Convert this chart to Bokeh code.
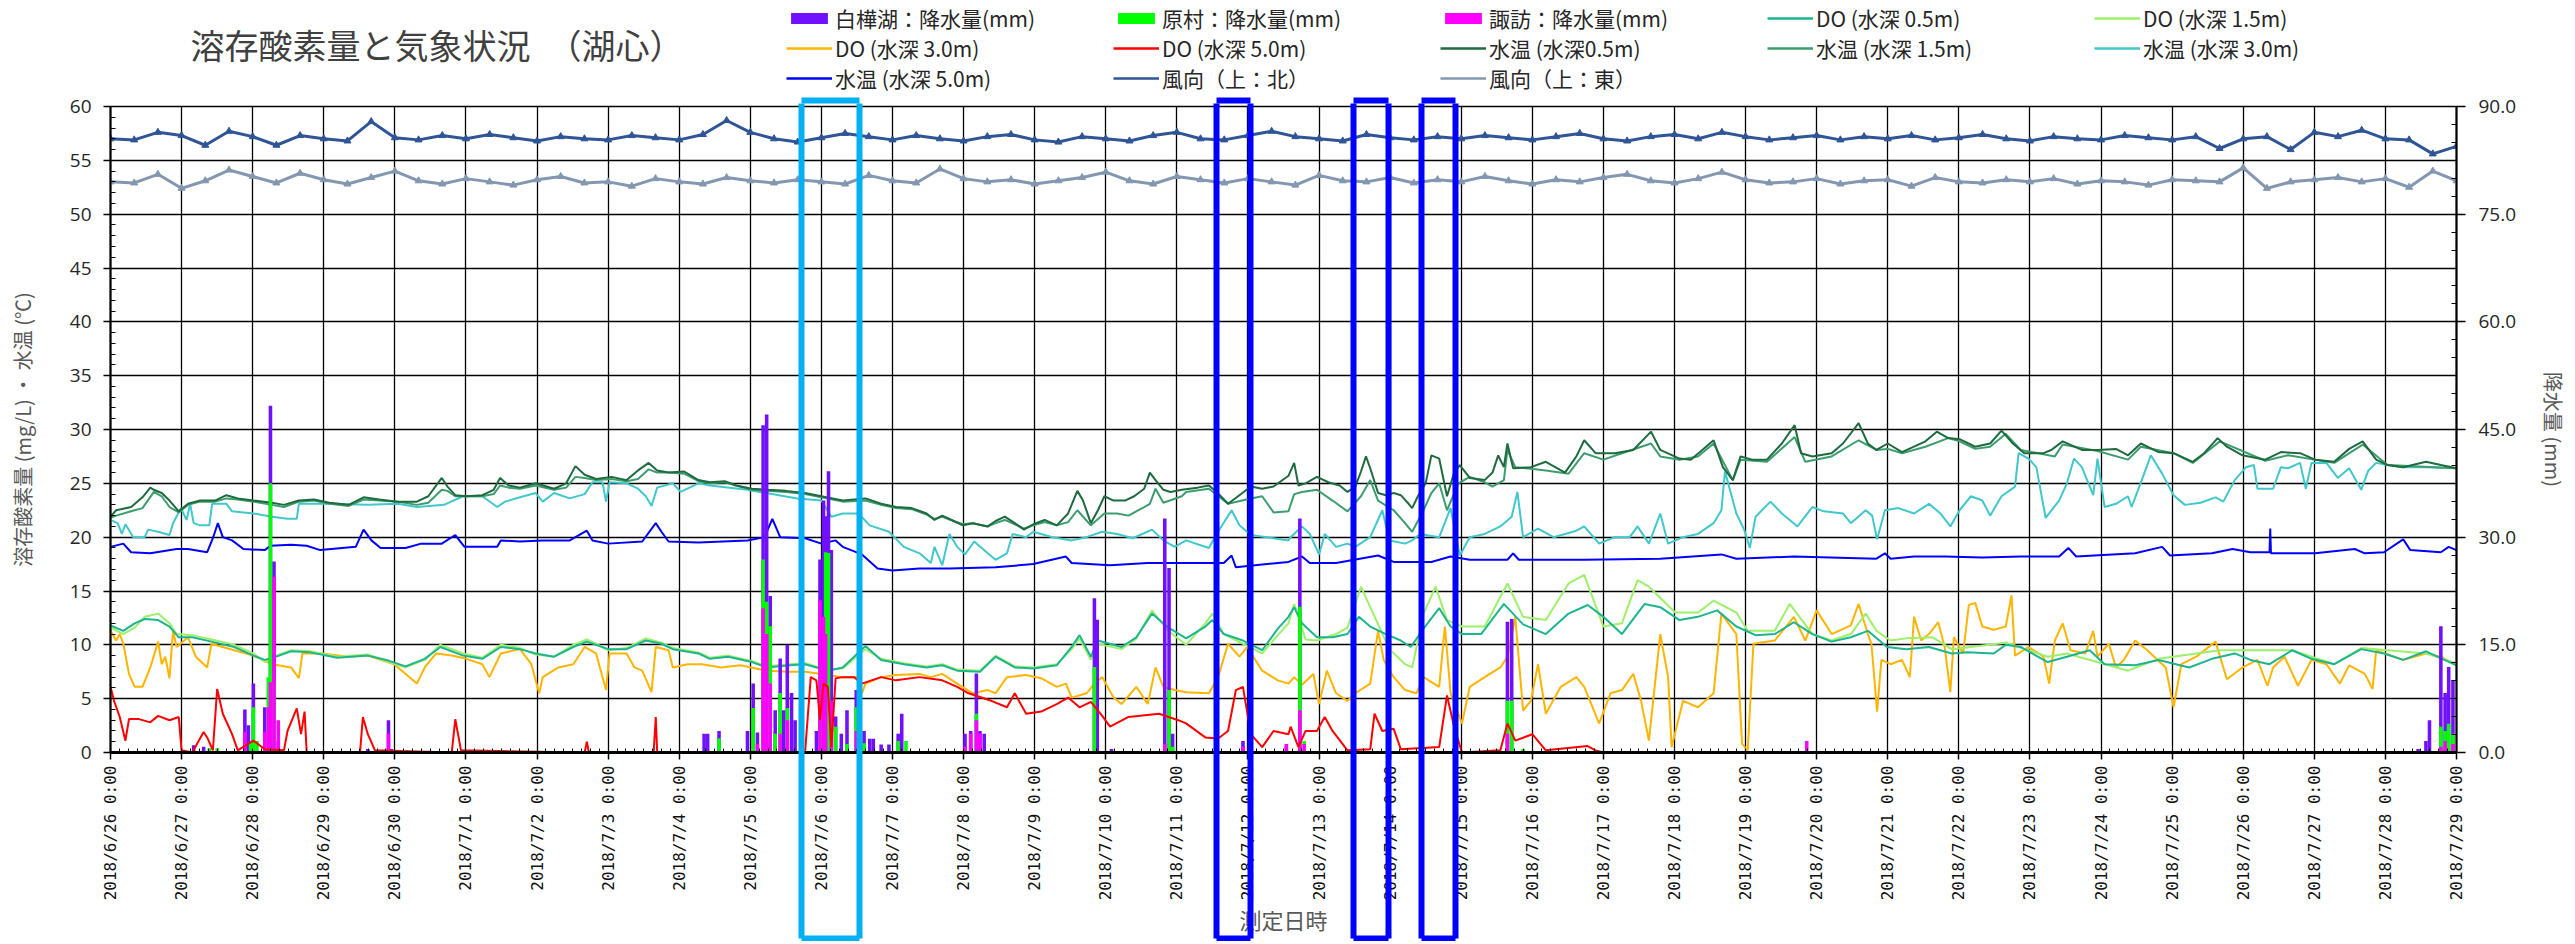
import math
from bokeh.plotting import figure
from bokeh.layouts import column
from bokeh.models import (Range1d, LinearAxis, FixedTicker, NumeralTickFormatter,
                          Legend, LegendItem, Label)
from bokeh.embed import file_html
from bokeh.resources import INLINE

# ---------------- data (x = days since 2018/6/26 0:00) ----------------
x_tick_labels = ["2018/6/26 0:00", "2018/6/27 0:00", "2018/6/28 0:00", "2018/6/29 0:00",
                 "2018/6/30 0:00", "2018/7/1 0:00", "2018/7/2 0:00", "2018/7/3 0:00",
                 "2018/7/4 0:00", "2018/7/5 0:00", "2018/7/6 0:00", "2018/7/7 0:00",
                 "2018/7/8 0:00", "2018/7/9 0:00", "2018/7/10 0:00", "2018/7/11 0:00",
                 "2018/7/12 0:00", "2018/7/13 0:00", "2018/7/14 0:00", "2018/7/15 0:00",
                 "2018/7/16 0:00", "2018/7/17 0:00", "2018/7/18 0:00", "2018/7/19 0:00",
                 "2018/7/20 0:00", "2018/7/21 0:00", "2018/7/22 0:00", "2018/7/23 0:00",
                 "2018/7/24 0:00", "2018/7/25 0:00", "2018/7/26 0:00", "2018/7/27 0:00",
                 "2018/7/28 0:00", "2018/7/29 0:00"]
left_ticks = [0, 5, 10, 15, 20, 25, 30, 35, 40, 45, 50, 55, 60]
right_ticks = [0, 15, 30, 45, 60, 75, 90]
chart_title = "溶存酸素量と気象状況　（湖心）"

# precipitation (mm, hourly)
rain_shirakaba = [(1.17, 1.0), (1.31, 0.8), (1.89, 6.0), (1.94, 3.8), (2.01, 9.6), (2.17, 6.3),
                  (2.25, 48.3), (2.30, 26.6), (2.36, 1.6), (3.62, 0.5), (3.91, 4.5), (3.95, 0.5),
                  (8.35, 2.6), (8.40, 2.6), (8.56, 3.0), (8.96, 3.0), (9.04, 9.6), (9.10, 2.8),
                  (9.18, 45.6), (9.23, 47.1), (9.28, 21.8), (9.35, 5.9), (9.42, 13.1), (9.47, 5.9),
                  (9.52, 15.0), (9.58, 8.3), (9.63, 4.5), (9.93, 3.0), (9.98, 26.9), (10.03, 35.1),
                  (10.06, 32.9), (10.10, 39.2), (10.14, 28.2), (10.20, 5.0), (10.28, 2.6),
                  (10.36, 5.9), (10.49, 8.7), (10.60, 3.0), (10.68, 1.9), (10.73, 1.9),
                  (10.84, 1.1), (10.95, 1.1), (11.08, 2.6), (11.13, 5.4), (12.02, 2.6),
                  (12.10, 3.0), (12.18, 11.0), (12.23, 3.0), (12.29, 2.6), (13.84, 21.5),
                  (13.88, 18.5), (14.08, 0.5), (14.83, 32.6), (14.89, 25.7), (14.94, 2.6),
                  (15.93, 1.6), (16.54, 0.8), (16.73, 32.6), (19.65, 18.2), (19.71, 18.6),
                  (32.46, 0.5), (32.57, 1.6), (32.62, 4.5), (32.78, 17.6), (32.84, 8.3),
                  (32.89, 11.9), (32.95, 10.1)]
rain_haramura = [(1.39, 0.6), (1.50, 0.6), (1.97, 1.5), (2.01, 6.3), (2.06, 1.6), (2.22, 10.5),
                 (2.25, 37.5), (2.30, 9.8), (8.56, 2.0), (9.04, 6.2), (9.18, 26.9), (9.23, 21.0),
                 (9.28, 17.6), (9.35, 2.6), (9.42, 8.3), (9.52, 6.2), (9.98, 11.9), (10.03, 12.9),
                 (10.06, 27.9), (10.10, 27.8), (10.20, 3.6), (10.36, 1.2), (10.49, 6.3),
                 (10.60, 1.3), (11.08, 1.6), (11.19, 1.6), (12.18, 5.4), (13.84, 11.9),
                 (14.89, 8.7), (14.94, 0.8), (16.73, 20.3), (16.79, 1.6), (19.65, 7.2),
                 (19.71, 7.2), (19.87, 0.5), (32.78, 3.6), (32.84, 3.0), (32.89, 4.0),
                 (32.95, 2.6)]
rain_suwa = [(1.89, 2.9), (2.17, 2.9), (2.22, 6.3), (2.25, 9.8), (2.30, 24.5), (2.36, 4.5),
             (3.91, 2.6), (9.10, 1.2), (9.18, 20.1), (9.23, 16.5), (9.28, 9.6), (9.42, 2.6),
             (9.52, 4.5), (9.98, 21.2), (10.03, 18.9), (10.06, 16.5), (10.14, 7.2), (10.49, 3.0),
             (12.02, 0.8), (12.10, 2.6), (12.18, 4.5), (12.23, 2.6), (14.83, 1.2), (15.93, 0.8),
             (16.54, 1.2), (16.73, 5.9), (16.79, 1.2), (19.65, 2.6), (23.86, 1.6), (32.78, 0.8),
             (32.84, 1.6), (32.95, 1.2)]

# dissolved oxygen (mg/L)
do_05 = [(0, 11.8), (0.18, 11.3), (0.34, 12.0), (0.48, 12.4), (0.67, 12.3), (0.83, 11.7),
         (0.96, 10.7), (1.15, 10.7), (1.42, 10.3), (1.74, 9.8), (2.01, 9.0), (2.17, 8.6),
         (2.33, 8.9), (2.54, 9.4), (2.81, 9.3), (3.19, 8.8), (3.62, 9.0), (3.88, 8.6), (4.15, 8.0),
         (4.42, 8.7), (4.64, 9.8), (4.96, 9.0), (5.23, 8.7), (5.49, 9.8), (5.76, 9.6), (5.98, 9.2),
         (6.24, 8.9), (6.51, 9.8), (6.70, 10.3), (6.83, 10.0), (7.0, 9.6), (7.26, 9.6), (7.53, 10.4),
         (7.75, 10.1), (7.91, 9.6), (8.27, 9.2), (8.43, 8.7), (8.69, 8.9), (9.02, 8.4), (9.23, 7.9),
         (9.55, 8.1), (9.77, 8.2), (10.09, 7.6), (10.30, 7.9), (10.62, 9.9), (10.84, 8.6),
         (11.16, 8.2), (11.48, 7.9), (11.70, 8.1), (11.91, 7.6), (12.23, 7.5), (12.45, 8.9),
         (12.72, 7.9), (12.98, 7.8), (13.31, 8.1), (13.52, 9.8), (13.63, 10.9), (13.79, 8.9),
         (13.89, 10.4), (14.22, 9.8), (14.43, 10.7), (14.65, 12.9), (14.86, 11.7), (15.13, 10.6),
         (15.40, 11.7), (15.50, 12.3), (15.66, 11.0), (15.93, 10.4), (16.20, 9.5), (16.42, 11.5),
         (16.57, 12.6), (16.65, 13.5), (16.76, 12.0), (16.97, 10.7), (17.19, 10.7), (17.40, 11.0),
         (17.56, 12.6), (17.72, 11.7), (17.94, 11.0), (18.15, 10.4), (18.29, 9.8), (18.47, 11.5),
         (18.69, 13.4), (18.85, 11.7), (19.01, 11.0), (19.28, 11.0), (19.60, 13.8), (19.87, 11.9),
         (20.19, 11.0), (20.51, 12.9), (20.78, 13.7), (21.0, 12.6), (21.26, 11.0), (21.58, 13.8),
         (21.80, 13.5), (22.07, 12.3), (22.33, 12.6), (22.60, 13.2), (22.87, 11.7), (23.14, 10.9),
         (23.41, 11.0), (23.68, 12.1), (23.94, 11.0), (24.21, 10.3), (24.48, 10.7), (24.72, 11.3),
         (24.99, 9.8), (25.26, 9.6), (25.58, 9.8), (25.90, 9.2), (26.12, 9.3), (26.49, 9.2),
         (26.66, 10.0), (26.87, 9.8), (27.25, 8.4), (27.52, 8.9), (27.84, 9.5), (28.05, 8.2),
         (28.48, 8.1), (28.81, 8.6), (29.24, 7.9), (29.56, 8.7), (29.88, 9.2), (30.10, 8.6),
         (30.37, 8.2), (30.69, 9.5), (30.96, 8.7), (31.28, 8.2), (31.66, 9.6), (31.98, 9.2),
         (32.25, 8.6), (32.57, 9.4), (33.0, 8.1)]
do_15 = [(0, 11.6), (0.18, 11.0), (0.34, 11.6), (0.48, 12.6), (0.67, 12.9), (0.83, 12.0),
         (0.93, 11.0), (1.15, 10.9), (1.42, 10.5), (1.74, 10.0), (2.01, 9.2), (2.17, 8.4),
         (2.33, 9.0), (2.54, 9.5), (2.81, 9.4), (3.19, 8.9), (3.62, 9.1), (3.88, 8.5), (4.15, 7.9),
         (4.42, 8.6), (4.64, 10.0), (4.96, 9.2), (5.23, 8.8), (5.49, 10.0), (5.76, 9.7), (5.98, 9.1),
         (6.24, 8.9), (6.51, 10.0), (6.70, 10.5), (6.83, 10.1), (7.0, 9.5), (7.26, 9.7), (7.53, 10.6),
         (7.75, 10.2), (7.91, 9.7), (8.27, 9.3), (8.43, 8.8), (8.69, 9.0), (9.02, 8.5), (9.23, 8.0),
         (9.55, 8.2), (9.77, 8.3), (10.09, 7.7), (10.30, 7.8), (10.62, 9.6), (10.84, 8.7),
         (11.16, 8.3), (11.48, 8.0), (11.70, 8.2), (11.91, 7.7), (12.23, 7.6), (12.45, 9.0),
         (12.72, 8.0), (12.98, 7.9), (13.31, 8.2), (13.52, 9.6), (13.63, 10.6), (13.79, 8.6),
         (13.89, 10.1), (14.22, 9.6), (14.43, 10.6), (14.65, 13.2), (14.86, 11.4), (15.13, 10.0),
         (15.40, 12.0), (15.50, 12.9), (15.66, 11.0), (15.93, 10.1), (16.20, 9.2), (16.42, 10.9),
         (16.57, 12.0), (16.65, 13.8), (16.81, 10.5), (16.97, 10.4), (17.24, 11.0), (17.40, 11.6),
         (17.59, 15.4), (17.72, 13.5), (17.99, 9.6), (18.21, 8.2), (18.31, 7.9), (18.47, 12.9),
         (18.64, 15.4), (18.80, 12.3), (19.01, 11.7), (19.33, 11.7), (19.65, 15.7), (19.87, 12.6),
         (20.19, 12.3), (20.51, 15.7), (20.73, 16.5), (21.0, 11.7), (21.26, 12.0), (21.48, 16.0),
         (21.64, 15.4), (22.01, 13.0), (22.33, 13.0), (22.55, 14.1), (22.87, 13.0), (23.03, 11.3),
         (23.41, 11.3), (23.62, 13.8), (23.94, 11.0), (24.21, 10.4), (24.48, 11.0), (24.69, 12.9),
         (24.84, 11.3), (25.04, 10.4), (25.26, 10.6), (25.63, 10.7), (25.90, 9.6), (26.66, 10.2),
         (27.25, 8.9), (27.52, 9.2), (28.38, 7.6), (28.81, 8.7), (29.67, 9.5), (30.69, 9.5),
         (31.28, 8.2), (31.66, 9.7), (32.57, 9.2), (33.0, 8.3)]
do_30 = [(0, 11.3), (0.08, 10.4), (0.13, 11.0), (0.18, 10.1), (0.26, 7.3), (0.34, 6.1), (0.45, 6.1),
         (0.56, 7.9), (0.67, 10.3), (0.72, 8.2), (0.77, 8.9), (0.83, 6.9), (0.88, 11.3), (0.93, 9.8),
         (1.09, 10.7), (1.20, 8.9), (1.36, 7.9), (1.42, 10.1), (1.74, 9.5), (2.01, 9.0), (2.27, 8.2),
         (2.54, 7.9), (2.65, 6.9), (2.70, 9.2), (2.97, 9.2), (3.35, 8.9), (3.62, 9.0), (3.99, 8.2),
         (4.31, 6.4), (4.42, 7.9), (4.58, 9.2), (4.80, 9.0), (5.01, 8.7), (5.23, 8.2), (5.33, 7.0),
         (5.49, 9.2), (5.76, 9.6), (5.92, 8.2), (6.03, 5.5), (6.08, 7.0), (6.30, 7.9), (6.51, 8.2),
         (6.67, 9.8), (6.83, 9.2), (6.97, 5.8), (7.02, 9.2), (7.26, 9.2), (7.37, 7.9), (7.48, 7.6),
         (7.61, 5.6), (7.67, 9.8), (7.85, 9.5), (7.91, 7.9), (8.12, 8.2), (8.32, 8.2), (8.59, 7.9),
         (8.86, 8.1), (9.23, 7.6), (9.55, 7.5), (9.77, 7.5), (10.0, 7.3), (10.30, 7.0), (10.52, 7.0),
         (10.57, 5.5), (10.62, 6.4), (10.84, 7.0), (11.05, 7.2), (11.38, 7.3), (11.54, 7.0),
         (11.70, 7.3), (11.91, 6.4), (12.13, 5.5), (12.34, 5.8), (12.45, 5.5), (12.61, 7.0),
         (12.88, 7.2), (13.09, 6.9), (13.31, 6.1), (13.44, 6.4), (13.52, 5.1), (13.73, 5.5),
         (13.84, 6.4), (13.95, 7.0), (14.11, 5.1), (14.22, 4.5), (14.43, 6.1), (14.59, 4.5),
         (14.70, 7.9), (14.81, 6.1), (14.97, 5.8), (15.13, 5.6), (15.45, 5.5), (15.58, 7.0),
         (15.72, 10.1), (15.88, 8.9), (15.99, 9.8), (16.20, 7.6), (16.42, 6.7), (16.57, 6.4),
         (16.65, 7.0), (16.76, 6.3), (16.92, 7.3), (17.0, 4.5), (17.11, 7.6), (17.24, 5.5),
         (17.40, 4.8), (17.51, 5.5), (17.72, 6.4), (17.83, 11.3), (17.91, 8.6), (18.05, 7.0),
         (18.21, 5.8), (18.37, 5.5), (18.47, 7.0), (18.69, 6.1), (18.77, 11.7), (18.85, 5.5),
         (19.01, 2.7), (19.12, 6.1), (19.33, 7.0), (19.55, 7.9), (19.65, 8.9), (19.76, 12.6),
         (19.87, 3.9), (19.98, 4.8), (20.08, 8.2), (20.19, 3.6), (20.40, 6.1), (20.62, 7.0),
         (20.73, 6.1), (20.94, 2.7), (21.10, 5.5), (21.26, 5.8), (21.42, 7.3), (21.53, 4.8),
         (21.64, 1.1), (21.80, 11.0), (21.91, 7.0), (21.96, 0.5), (22.12, 4.8), (22.33, 4.2),
         (22.55, 5.5), (22.66, 12.9), (22.87, 11.0), (22.95, 0.8), (23.03, 0.2), (23.11, 10.1),
         (23.41, 10.4), (23.68, 12.6), (23.84, 10.4), (24.0, 13.2), (24.21, 11.0), (24.48, 11.8),
         (24.59, 13.8), (24.72, 11.0), (24.77, 10.1), (24.85, 3.8), (24.91, 8.6), (25.04, 8.2),
         (25.20, 8.6), (25.31, 7.0), (25.37, 12.6), (25.47, 10.4), (25.58, 11.0), (25.71, 12.1),
         (25.80, 9.8), (25.88, 5.6), (25.93, 10.7), (26.06, 9.2), (26.14, 13.7), (26.23, 13.9),
         (26.33, 11.7), (26.49, 11.4), (26.66, 11.7), (26.74, 14.6), (26.79, 9.0), (26.98, 9.8),
         (27.19, 8.9), (27.27, 6.4), (27.35, 10.4), (27.46, 12.0), (27.57, 9.5), (27.78, 9.2),
         (27.89, 11.3), (27.95, 8.9), (28.11, 10.1), (28.21, 7.9), (28.32, 8.6), (28.48, 10.4),
         (28.65, 9.5), (28.91, 7.9), (29.02, 4.2), (29.13, 8.2), (29.34, 8.9), (29.61, 10.3),
         (29.77, 6.8), (29.99, 7.9), (30.20, 8.6), (30.34, 6.2), (30.42, 7.9), (30.58, 8.9),
         (30.77, 6.2), (30.96, 8.6), (31.17, 8.2), (31.36, 6.4), (31.49, 8.1), (31.71, 7.3),
         (31.82, 5.9), (31.87, 9.5), (32.25, 8.6), (32.57, 9.2), (32.78, 8.9), (33.0, 8.1)]
do_50 = [(0, 6.1), (0.05, 4.8), (0.13, 3.3), (0.21, 1.1), (0.26, 3.1), (0.40, 3.1), (0.56, 2.8),
         (0.67, 3.4), (0.83, 3.0), (0.96, 3.3), (1.0, 0.2), (1.15, 0.0), (1.31, 1.9), (1.36, 1.4),
         (1.44, 0.2), (1.50, 5.9), (1.58, 3.6), (1.71, 1.7), (1.79, 0.2), (2.01, 1.1), (2.17, 0.3),
         (2.44, 0.2), (2.49, 2.0), (2.62, 4.1), (2.68, 1.7), (2.73, 3.8), (2.76, 0.0), (3.51, 0.0),
         (3.55, 3.3), (3.62, 1.7), (3.72, 0.2), (4.80, 0.0), (4.85, 3.1), (4.93, 0.2), (6.67, 0.0),
         (6.70, 1.0), (6.73, 0.0), (7.64, 0.0), (7.67, 3.3), (7.69, 0.0), (9.77, 0.0), (9.85, 7.0),
         (9.93, 6.7), (9.98, 3.0), (10.03, 6.4), (10.09, 6.1), (10.14, 0.5), (10.20, 6.9),
         (10.30, 7.0), (10.46, 7.0), (10.57, 6.4), (10.84, 7.0), (11.05, 6.7), (11.38, 7.0),
         (11.70, 6.7), (11.91, 6.1), (12.07, 5.5), (12.39, 4.8), (12.61, 4.2), (12.72, 5.5),
         (12.88, 3.6), (13.09, 3.8), (13.31, 4.5), (13.47, 5.1), (13.63, 4.2), (13.79, 4.7),
         (13.95, 3.4), (14.06, 2.4), (14.32, 3.3), (14.75, 3.6), (15.02, 3.0), (15.13, 2.7),
         (15.40, 1.4), (15.58, 1.3), (15.72, 2.0), (15.83, 5.8), (15.93, 6.1), (16.04, 1.7),
         (16.20, 0.5), (16.36, 2.0), (16.57, 1.7), (16.60, 2.4), (16.71, 0.5), (16.81, 2.0),
         (16.97, 2.0), (17.08, 3.3), (17.19, 2.0), (17.40, 0.2), (17.72, 0.3), (17.78, 3.6),
         (17.89, 2.0), (18.05, 2.2), (18.15, 0.3), (18.69, 0.5), (18.80, 5.3), (18.90, 2.4),
         (19.01, 0.0), (19.55, 0.2), (19.65, 2.7), (19.76, 1.1), (20.0, 1.7), (20.19, 0.2),
         (20.78, 0.6), (20.89, 0.2), (21.0, 0.0), (33.0, 0.0)]

# water temperature (deg C)
wt_05 = [(0, 21.9), (0.08, 22.5), (0.29, 22.8), (0.45, 23.7), (0.56, 24.6), (0.61, 24.4),
         (0.72, 24.1), (0.83, 23.4), (0.96, 22.4), (1.09, 23.1), (1.26, 23.4), (1.47, 23.4),
         (1.63, 23.9), (1.79, 23.6), (2.01, 23.4), (2.27, 23.2), (2.44, 23.0), (2.65, 23.4),
         (2.86, 23.5), (3.08, 23.2), (3.35, 23.0), (3.56, 23.7), (3.78, 23.5), (4.04, 23.3),
         (4.31, 23.3), (4.47, 23.8), (4.66, 25.5), (4.74, 24.7), (4.85, 23.9), (5.01, 23.8),
         (5.23, 23.9), (5.39, 24.4), (5.48, 25.5), (5.60, 24.8), (5.76, 24.6), (5.98, 25.0),
         (6.24, 24.5), (6.41, 25.0), (6.54, 26.6), (6.67, 25.8), (6.83, 25.4), (7.05, 25.6),
         (7.26, 25.3), (7.42, 26.2), (7.57, 26.9), (7.69, 26.2), (7.85, 26.0), (8.07, 26.1),
         (8.27, 25.3), (8.43, 25.1), (8.64, 25.2), (8.80, 24.8), (9.02, 24.5), (9.23, 24.4),
         (9.50, 24.3), (9.77, 24.1), (10.0, 23.8), (10.30, 23.4), (10.62, 23.6), (10.84, 23.1),
         (11.05, 22.8), (11.27, 22.7), (11.48, 22.2), (11.59, 21.6), (11.70, 22.0), (11.86, 21.5),
         (11.99, 21.1), (12.13, 21.3), (12.34, 21.0), (12.45, 21.5), (12.58, 21.9), (12.72, 21.3),
         (12.85, 20.7), (12.98, 21.2), (13.14, 21.6), (13.31, 21.1), (13.47, 22.2), (13.60, 24.3),
         (13.68, 23.4), (13.79, 21.3), (13.89, 22.5), (13.98, 23.8), (14.11, 23.4), (14.27, 23.4),
         (14.40, 23.8), (14.54, 24.5), (14.62, 26.0), (14.70, 25.3), (14.81, 24.4), (14.91, 24.2),
         (15.07, 24.4), (15.29, 24.6), (15.45, 24.8), (15.56, 24.2), (15.72, 23.1), (15.88, 23.9),
         (16.04, 24.7), (16.20, 24.5), (16.36, 24.7), (16.57, 25.7), (16.65, 26.9), (16.71, 24.8),
         (16.81, 25.0), (16.97, 25.6), (17.13, 25.1), (17.29, 24.8), (17.40, 24.2), (17.51, 24.7),
         (17.59, 26.1), (17.66, 27.5), (17.72, 26.4), (17.83, 24.1), (17.94, 23.9), (18.05, 24.1),
         (18.15, 23.9), (18.26, 23.1), (18.31, 22.7), (18.39, 23.8), (18.50, 25.0), (18.58, 27.6),
         (18.69, 27.3), (18.80, 23.8), (18.90, 26.0), (18.98, 26.7), (19.12, 25.5), (19.33, 25.3),
         (19.44, 26.0), (19.52, 27.6), (19.60, 26.5), (19.65, 28.7), (19.73, 26.4), (19.98, 26.5),
         (20.19, 27.0), (20.46, 26.0), (20.62, 27.5), (20.73, 29.0), (20.89, 27.8), (21.16, 27.8),
         (21.42, 28.1), (21.67, 29.8), (21.80, 28.1), (22.07, 27.3), (22.23, 27.2), (22.39, 28.1),
         (22.55, 29.0), (22.68, 26.5), (22.82, 25.3), (22.93, 27.5), (23.09, 27.2), (23.30, 27.2),
         (23.51, 28.7), (23.69, 30.4), (23.78, 27.8), (23.94, 27.5), (24.21, 27.8), (24.37, 28.7),
         (24.59, 30.6), (24.72, 28.7), (24.84, 28.1), (25.0, 28.7), (25.20, 27.9), (25.53, 28.9),
         (25.69, 29.8), (25.85, 29.2), (26.01, 29.1), (26.23, 28.4), (26.44, 28.7), (26.60, 29.9),
         (26.76, 28.7), (26.92, 27.8), (27.19, 27.8), (27.30, 28.1), (27.46, 28.9), (27.73, 28.1),
         (27.95, 28.1), (28.21, 28.2), (28.38, 27.6), (28.56, 28.7), (28.81, 27.9), (29.02, 27.8),
         (29.29, 27.0), (29.45, 27.8), (29.64, 29.2), (29.77, 28.4), (29.99, 27.6), (30.31, 27.2),
         (30.53, 27.9), (30.80, 27.8), (31.01, 27.2), (31.28, 27.0), (31.49, 28.2), (31.68, 28.9),
         (31.87, 27.2), (32.03, 26.7), (32.25, 26.5), (32.57, 27.0), (32.78, 26.7), (33.0, 26.4)]
wt_15 = [(0, 21.8), (0.08, 22.0), (0.29, 22.4), (0.45, 22.7), (0.61, 24.2), (0.72, 23.8),
         (0.83, 22.8), (0.96, 22.3), (1.09, 23.0), (1.26, 23.3), (1.47, 23.3), (1.63, 23.6),
         (1.79, 23.5), (2.01, 23.3), (2.27, 23.0), (2.44, 22.8), (2.65, 23.3), (2.86, 23.4),
         (3.08, 23.1), (3.35, 22.9), (3.56, 23.5), (3.78, 23.4), (4.04, 23.3), (4.31, 23.0),
         (4.47, 23.2), (4.66, 24.4), (4.74, 24.3), (4.85, 23.8), (5.01, 23.8), (5.23, 23.8),
         (5.39, 24.0), (5.48, 24.8), (5.60, 24.6), (5.76, 24.5), (5.98, 24.8), (6.24, 24.4),
         (6.41, 24.6), (6.54, 25.6), (6.67, 25.5), (6.83, 25.3), (7.05, 25.4), (7.26, 25.2),
         (7.42, 25.4), (7.57, 26.3), (7.69, 26.0), (7.85, 26.0), (8.07, 25.9), (8.27, 25.2),
         (8.43, 25.0), (8.64, 25.1), (8.80, 24.8), (9.02, 24.4), (9.23, 24.3), (9.50, 24.2),
         (9.77, 24.0), (10.0, 23.7), (10.30, 23.3), (10.62, 23.4), (10.84, 23.0), (11.05, 22.7),
         (11.27, 22.6), (11.48, 22.1), (11.59, 21.7), (11.70, 21.9), (11.86, 21.5), (11.99, 21.2),
         (12.13, 21.3), (12.34, 21.0), (12.45, 21.3), (12.58, 21.6), (12.72, 21.2), (12.85, 20.8),
         (12.98, 21.1), (13.14, 21.4), (13.31, 21.1), (13.47, 21.4), (13.60, 22.5), (13.79, 21.1),
         (13.98, 22.2), (14.16, 22.2), (14.32, 22.0), (14.54, 22.8), (14.62, 23.1), (14.70, 24.5),
         (14.81, 23.2), (15.07, 23.8), (15.13, 24.2), (15.45, 24.5), (15.72, 23.1), (16.04, 23.6),
         (16.20, 23.8), (16.36, 22.3), (16.57, 22.4), (16.65, 24.0), (16.76, 24.2), (16.97, 24.4),
         (17.19, 23.4), (17.40, 22.4), (17.59, 23.8), (17.72, 25.3), (17.83, 23.4), (18.05, 22.5),
         (18.21, 21.3), (18.31, 20.5), (18.47, 22.5), (18.58, 24.1), (18.69, 25.0), (18.80, 22.5),
         (18.96, 25.0), (19.12, 25.6), (19.33, 25.1), (19.44, 24.7), (19.60, 25.3), (19.65, 28.1),
         (19.76, 26.5), (20.19, 26.2), (20.51, 25.9), (20.73, 27.8), (21.0, 27.2), (21.26, 27.8),
         (21.67, 28.7), (21.80, 27.5), (22.07, 27.2), (22.33, 27.5), (22.55, 28.7), (22.82, 25.3),
         (22.93, 27.2), (23.30, 27.0), (23.69, 29.3), (23.84, 27.0), (24.21, 27.5), (24.59, 29.0),
         (24.84, 28.1), (25.0, 28.2), (25.20, 27.8), (25.53, 28.4), (25.85, 29.2), (26.01, 28.9),
         (26.23, 28.2), (26.44, 28.4), (26.66, 29.6), (26.87, 28.1), (27.35, 27.5), (27.46, 28.6),
         (27.95, 28.0), (28.38, 27.2), (28.56, 28.4), (29.02, 27.8), (29.29, 26.9), (29.67, 28.9),
         (30.31, 27.1), (30.63, 27.6), (31.28, 26.9), (31.68, 28.6), (32.03, 26.7), (33.0, 26.4)]
wt_30 = [(0, 21.6), (0.10, 21.3), (0.16, 20.3), (0.21, 21.2), (0.32, 20.0), (0.48, 20.0),
         (0.53, 20.7), (0.67, 20.5), (0.83, 20.2), (0.88, 21.3), (0.99, 22.7), (1.07, 21.6),
         (1.12, 23.1), (1.17, 21.3), (1.26, 21.1), (1.39, 21.1), (1.43, 23.1), (1.63, 23.1),
         (1.71, 22.4), (2.01, 22.2), (2.27, 21.9), (2.49, 21.7), (2.62, 21.7), (2.65, 23.1),
         (3.08, 23.1), (3.62, 23.0), (4.04, 23.1), (4.31, 22.8), (4.69, 23.0), (4.96, 23.8),
         (5.23, 23.8), (5.44, 22.8), (5.55, 23.3), (5.76, 23.7), (5.98, 24.1), (6.08, 23.3),
         (6.24, 24.1), (6.46, 23.6), (6.67, 24.0), (6.78, 25.1), (6.92, 25.1), (6.97, 23.3),
         (7.02, 25.1), (7.26, 25.0), (7.42, 24.5), (7.53, 23.8), (7.61, 22.9), (7.69, 24.6),
         (7.91, 25.0), (8.02, 24.2), (8.27, 25.0), (8.43, 24.8), (8.96, 24.4), (9.66, 23.6),
         (10.0, 23.4), (10.14, 21.9), (10.30, 22.2), (10.52, 22.2), (10.68, 21.1), (10.95, 20.5),
         (11.16, 19.1), (11.38, 18.5), (11.54, 17.6), (11.59, 19.1), (11.70, 17.4), (11.80, 20.3),
         (11.91, 19.1), (12.02, 18.4), (12.15, 19.6), (12.34, 18.5), (12.45, 17.9), (12.61, 18.5),
         (12.69, 20.3), (12.88, 20.0), (12.98, 20.5), (13.25, 20.0), (13.52, 19.7), (13.73, 20.0),
         (13.95, 20.5), (14.16, 20.3), (14.38, 19.9), (14.65, 20.7), (14.81, 19.7), (14.97, 19.1),
         (15.13, 19.7), (15.45, 19.0), (15.56, 20.3), (15.77, 22.5), (15.88, 21.1), (16.04, 20.2),
         (16.57, 19.7), (16.60, 20.0), (16.76, 21.0), (16.87, 20.3), (17.0, 18.4), (17.08, 20.3),
         (17.24, 19.1), (17.40, 19.4), (17.51, 19.1), (17.72, 20.0), (17.89, 22.5), (17.99, 19.7),
         (18.21, 19.4), (18.31, 19.7), (18.42, 20.3), (18.69, 20.0), (18.85, 22.7), (18.98, 18.3),
         (19.12, 20.0), (19.33, 20.3), (19.55, 21.0), (19.71, 21.9), (19.79, 24.2), (19.87, 20.0),
         (20.08, 20.8), (20.30, 20.0), (20.62, 20.6), (20.73, 21.0), (20.94, 19.4), (21.16, 20.0),
         (21.37, 20.0), (21.48, 21.0), (21.64, 19.4), (21.80, 22.2), (21.91, 19.4), (22.12, 20.0),
         (22.33, 20.3), (22.55, 21.3), (22.66, 22.5), (22.71, 26.1), (22.87, 22.2), (22.98, 20.7),
         (23.06, 19.0), (23.14, 21.9), (23.35, 23.3), (23.51, 22.2), (23.73, 21.0), (23.94, 22.8),
         (24.10, 22.4), (24.37, 22.2), (24.48, 21.3), (24.69, 22.5), (24.78, 22.0), (24.85, 19.8),
         (24.96, 22.5), (25.15, 22.7), (25.37, 22.2), (25.58, 23.1), (25.74, 22.2), (25.88, 21.0),
         (26.01, 22.5), (26.17, 23.8), (26.33, 23.4), (26.44, 22.0), (26.60, 23.8), (26.79, 24.7),
         (26.84, 27.8), (26.98, 27.3), (27.09, 26.5), (27.22, 21.8), (27.41, 23.4), (27.52, 25.0),
         (27.62, 27.3), (27.73, 26.5), (27.89, 23.9), (27.95, 27.3), (28.05, 22.8), (28.21, 23.1),
         (28.38, 23.8), (28.43, 22.8), (28.59, 25.6), (28.70, 27.6), (28.86, 25.9), (29.02, 23.9),
         (29.18, 23.0), (29.40, 23.2), (29.61, 23.7), (29.72, 23.3), (29.88, 25.3), (30.04, 26.5),
         (30.15, 26.7), (30.20, 24.5), (30.42, 24.5), (30.53, 26.5), (30.63, 26.4), (30.80, 26.9),
         (30.88, 24.5), (30.96, 26.9), (31.17, 26.9), (31.33, 25.5), (31.49, 26.4), (31.66, 24.4),
         (31.76, 26.2), (31.87, 26.9), (32.03, 26.7), (32.25, 26.5), (32.57, 26.5), (33.0, 26.4)]
wt_50 = [(0, 19.1), (0.18, 19.4), (0.29, 18.6), (0.56, 18.5), (0.93, 18.9), (1.09, 18.9),
         (1.36, 18.6), (1.44, 19.9), (1.51, 21.3), (1.58, 20.0), (1.71, 19.7), (1.87, 18.9),
         (2.17, 18.8), (2.25, 19.2), (2.54, 19.3), (2.76, 19.2), (2.95, 18.8), (3.45, 19.1),
         (3.56, 20.7), (3.67, 19.7), (3.80, 19.0), (4.15, 19.0), (4.37, 19.4), (4.66, 19.4),
         (4.85, 20.2), (4.98, 19.1), (5.44, 19.1), (5.49, 19.7), (5.76, 19.6), (6.08, 19.7),
         (6.46, 19.7), (6.70, 20.6), (6.78, 19.7), (7.0, 19.4), (7.48, 19.6), (7.67, 21.3),
         (7.75, 20.5), (7.85, 19.6), (8.27, 19.5), (8.96, 19.7), (9.20, 20.0), (9.31, 21.7),
         (9.42, 20.0), (9.77, 19.9), (10.0, 19.4), (10.20, 19.7), (10.30, 19.1), (10.57, 18.4),
         (10.79, 17.1), (11.0, 16.9), (11.38, 17.1), (11.80, 17.1), (12.45, 17.2), (12.98, 17.5),
         (13.44, 18.2), (13.52, 17.6), (14.06, 17.4), (14.59, 17.6), (15.13, 17.6), (15.66, 17.6),
         (15.77, 18.3), (15.83, 17.2), (16.57, 17.7), (16.76, 18.2), (16.87, 17.6), (17.24, 17.6),
         (17.83, 18.3), (18.05, 17.7), (18.58, 17.7), (18.85, 18.2), (19.12, 17.9), (19.65, 17.9),
         (19.73, 18.5), (19.81, 17.9), (20.73, 17.9), (21.80, 18.0), (22.66, 18.4), (22.87, 18.0),
         (23.68, 18.2), (24.84, 18.0), (24.96, 18.5), (25.04, 18.0), (25.37, 18.2), (25.80, 18.2),
         (26.33, 18.1), (26.87, 18.2), (27.41, 18.2), (27.54, 19.0), (27.65, 18.2), (28.48, 18.5),
         (28.86, 19.1), (28.97, 18.3), (29.56, 18.5), (29.85, 18.9), (30.10, 18.6), (30.37, 18.6),
         (30.38, 20.8), (30.39, 18.5), (31.01, 18.5), (31.57, 18.9), (31.71, 18.5), (31.98, 18.6),
         (32.25, 19.8), (32.35, 18.8), (32.78, 18.6), (32.89, 19.1), (33.0, 18.8)]

# wind direction bands (values every 8 hours, plotted on the left axis)
wind_north = [57.0, 56.9, 57.6, 57.3, 56.4, 57.7, 57.2, 56.4, 57.3, 57.0, 56.8, 58.6, 57.1, 56.9,
              57.3, 57.0, 57.4, 57.1, 56.8, 57.2, 57.0, 56.9, 57.3, 57.1, 56.9, 57.4, 58.7, 57.6,
              57.0, 56.7, 57.1, 57.5, 57.2, 56.9, 57.3, 57.0, 56.8, 57.2, 57.4, 56.9, 56.7, 57.2,
              57.0, 56.8, 57.3, 57.6, 57.0, 56.9, 57.3, 57.7, 57.2, 57.0, 56.8, 57.4, 57.1, 56.9,
              57.2, 57.0, 57.3, 57.1, 56.9, 57.2, 57.5, 57.0, 56.8, 57.2, 57.4, 57.0, 57.6, 57.2,
              56.9, 57.1, 57.3, 56.9, 57.2, 57.0, 57.3, 56.9, 57.1, 57.4, 57.0, 56.8, 57.2, 57.0,
              56.9, 57.3, 57.1, 56.9, 57.2, 56.1, 57.0, 57.2, 56.0, 57.6, 57.2, 57.8, 57.0, 56.9,
              55.6, 56.3]
wind_east = [53.0, 52.9, 53.7, 52.4, 53.1, 54.1, 53.5, 52.9, 53.8, 53.2, 52.8, 53.4, 54.0, 53.1,
             52.8, 53.3, 53.0, 52.7, 53.2, 53.5, 52.9, 53.0, 52.6, 53.3, 53.0, 52.8, 53.4, 53.1,
             52.9, 53.2, 53.0, 52.8, 53.6, 53.1, 52.9, 54.2, 53.3, 53.0, 53.2, 52.8, 53.1, 53.4,
             53.9, 53.1, 52.8, 53.5, 53.2, 52.9, 53.3, 53.0, 52.7, 53.6, 53.1, 53.0, 53.4, 52.9,
             53.2, 53.0, 53.5, 53.1, 52.8, 53.2, 53.0, 53.4, 53.7, 53.1, 52.9, 53.3, 53.9, 53.2,
             52.9, 53.0, 53.3, 52.8, 53.1, 53.2, 52.6, 53.4, 53.0, 52.9, 53.2, 53.0, 53.3, 52.8,
             53.1, 53.0, 52.7, 53.2, 53.1, 53.0, 54.3, 52.4, 53.0, 53.2, 53.4, 53.0, 53.3, 52.5,
             54.0, 53.1]

# highlighted periods (days)
highlight_start = [9.72, 15.56, 17.49, 18.44]
highlight_end = [10.54, 16.03, 17.97, 18.92]
highlight_color = ["#00B0F0", "#0000FF", "#0000FF", "#0000FF"]

lab_font = "Noto Sans CJK JP"
W = 2574
HEAD_H = 93
MAIN_H = 848
TOP_B = 13
FRAME_H = 646
BL, BR = 110, 118
xr = Range1d(0, 33)


def xy(pairs):
    return [a for a, b in pairs], [b for a, b in pairs]


wn_t = [i / 3 for i in range(len(wind_north))]
we_t = [i / 3 for i in range(len(wind_east))]

# series: (legend label, data, colour, kind)
series = [
    ("白樺湖：降水量(mm)", rain_shirakaba, "#7010FF", "box"),
    ("原村：降水量(mm)", rain_haramura, "#00FF00", "box"),
    ("諏訪：降水量(mm)", rain_suwa, "#FF00FF", "box"),
    ("DO (水深 0.5m)", do_05, "#1DB58E", "line"),
    ("DO (水深 1.5m)", do_15, "#9CF06A", "line"),
    ("DO (水深 3.0m)", do_30, "#FFB400", "line"),
    ("DO (水深 5.0m)", do_50, "#FF0000", "line"),
    ("水温 (水深0.5m)", wt_05, "#1F6B3F", "line"),
    ("水温 (水深 1.5m)", wt_15, "#3C9D6E", "line"),
    ("水温 (水深 3.0m)", wt_30, "#40C8CC", "line"),
    ("水温 (水深 5.0m)", wt_50, "#0000FF", "line"),
    ("風向（上：北）", list(zip(wn_t, wind_north)), "#2F5597", "line"),
    ("風向（上：東）", list(zip(we_t, wind_east)), "#8497B0", "line"),
]
S = {s[0]: s for s in series}

# ================= main chart =================
p = figure(width=W, height=MAIN_H, x_range=xr, y_range=Range1d(0, 60),
           output_backend="svg", toolbar_location=None,
           min_border_left=BL, min_border_right=BR, min_border_top=TOP_B,
           min_border_bottom=MAIN_H - TOP_B - FRAME_H,
           background_fill_color="white", border_fill_color="white",
           outline_line_color="black", outline_line_width=1.5)
p.extra_y_ranges = {"rain": Range1d(0, 90)}


def draw_line(fig, name, width=2, **kw):
    _, data, colour, _ = S[name]
    t, v = xy(data)
    return fig.line(t, v, color=colour, line_width=width, **kw)


def draw_bars(fig, name, **kw):
    _, data, colour, _ = S[name]
    t, v = xy(data)
    return fig.vbar(x=t, top=v, width=0.05, fill_color=colour, line_color=None, **kw)


for nm in ["風向（上：北）", "風向（上：東）"]:
    draw_line(p, nm, width=3)
    t, v = xy(S[nm][1])
    p.scatter(t, v, marker="triangle", size=7, color=S[nm][2])
for nm in ["水温 (水深 3.0m)", "水温 (水深 1.5m)", "水温 (水深0.5m)", "水温 (水深 5.0m)",
           "DO (水深 3.0m)", "DO (水深 1.5m)", "DO (水深 0.5m)"]:
    draw_line(p, nm)
for nm in ["白樺湖：降水量(mm)", "原村：降水量(mm)", "諏訪：降水量(mm)"]:
    draw_bars(p, nm, y_range_name="rain")
draw_line(p, "DO (水深 5.0m)")

xa = p.xaxis[0]
xa.ticker = FixedTicker(ticks=list(range(len(x_tick_labels))),
                        minor_ticks=[i / 8 for i in range(33 * 8 + 1)])
xa.major_label_overrides = {i: s for i, s in enumerate(x_tick_labels)}
xa.major_label_orientation = math.pi / 2
xa.major_label_text_font = "DejaVu Sans Mono"
xa.major_label_text_font_size = "16px"
xa.major_label_text_color = "#111111"
xa.major_label_standoff = 6
xa.major_tick_out = 7
xa.major_tick_in = 0
xa.minor_tick_in = 4
xa.minor_tick_out = 0
xa.axis_line_width = 3
xa.major_tick_line_width = 1.5
xa.axis_label = "測定日時"
xa.axis_label_text_font = lab_font
xa.axis_label_text_font_style = "normal"
xa.axis_label_text_font_size = "22px"
xa.axis_label_text_color = "#595959"
xa.axis_label_standoff = 0

ya = p.yaxis[0]
ya.ticker = FixedTicker(ticks=left_ticks, minor_ticks=list(range(61)))
ya.major_label_text_font = "Open Sans"
ya.major_label_text_font_size = "19px"
ya.major_label_text_color = "#262626"
ya.major_label_standoff = 12
ya.major_tick_out = 7
ya.major_tick_in = 0
ya.minor_tick_in = 5
ya.minor_tick_out = 0
ya.axis_line_width = 2
ya.major_tick_line_width = 1.5
ya.axis_label = "溶存酸素量 (mg/L) ・ 水温 (℃)"
ya.axis_label_text_font = lab_font
ya.axis_label_text_font_style = "normal"
ya.axis_label_text_font_size = "20px"
ya.axis_label_text_color = "#595959"
ya.axis_label_standoff = 30

ra = LinearAxis(y_range_name="rain",
                ticker=FixedTicker(ticks=right_ticks, minor_ticks=[i * 2.5 for i in range(37)]),
                formatter=NumeralTickFormatter(format="0.0"),
                axis_label="降水量 (mm)")
ra.major_label_text_font = "Open Sans"
ra.major_label_text_font_size = "19px"
ra.major_label_text_color = "#262626"
ra.major_label_standoff = 13
ra.major_tick_out = 9
ra.major_tick_in = 0
ra.minor_tick_in = 5
ra.minor_tick_out = 0
ra.axis_line_width = 2
ra.major_tick_line_width = 1.5
ra.axis_label_text_font = lab_font
ra.axis_label_text_font_style = "normal"
ra.axis_label_text_font_size = "20px"
ra.axis_label_text_color = "#595959"
ra.axis_label_standoff = 20
p.add_layout(ra, "right")

p.xgrid.grid_line_color = "black"
p.xgrid.grid_line_width = 1.3
p.ygrid.grid_line_color = "black"
p.ygrid.grid_line_width = 1.3


# highlight boxes, drawn by bounded x-axes outside the frame
def bare_axis(ticks):
    ax = LinearAxis(ticker=FixedTicker(ticks=ticks, minor_ticks=[]))
    ax.major_label_overrides = {t_: "" for t_ in ticks}
    ax.major_label_text_font_size = "0px"
    ax.major_label_standoff = 0
    ax.major_tick_out = 0
    ax.major_tick_in = 0
    ax.minor_tick_in = 0
    ax.minor_tick_out = 0
    return ax


spacer = bare_axis([0])
spacer.axis_line_color = None
spacer.major_tick_line_color = None
spacer.major_tick_out = 6
p.add_layout(spacer, "above")

for a, b, c in zip(highlight_start, highlight_end, highlight_color):
    top_ax = bare_axis([])
    top_ax.bounds = (a, b)
    top_ax.axis_line_color = c
    top_ax.axis_line_width = 6
    p.add_layout(top_ax, "above")

    bx = bare_axis([a, b])
    bx.bounds = (a, b)
    bx.major_tick_in = 835
    bx.axis_line_color = c
    bx.axis_line_width = 6
    bx.major_tick_line_color = c
    bx.major_tick_line_width = 6
    p.add_layout(bx, "below")

# ================= header: title and legend =================
h = figure(width=W, height=HEAD_H, x_range=xr, y_range=Range1d(0, HEAD_H),
           output_backend="svg", toolbar_location=None,
           x_axis_location=None, y_axis_location=None,
           min_border_left=BL, min_border_right=BR, min_border_top=0, min_border_bottom=0,
           background_fill_color="white", border_fill_color="white", outline_line_color=None)
h.xgrid.visible = False
h.ygrid.visible = False

PX_PER_DAY = 2346 / 33.0
h.add_layout(Label(x=80 / PX_PER_DAY, y=49, text=chart_title, text_font=lab_font,
                   text_font_size="34px", text_color="#404040", text_baseline="middle",
                   text_align="left"))

items = []
for label, data, colour, kind in series:
    if kind == "box":
        r = draw_bars(h, label, visible=False)
    else:
        r = draw_line(h, label, width=2.5, visible=False)
    items.append(LegendItem(label=label, renderers=[r]))

legend = Legend(items=items, location=(676, 0), orientation="horizontal", ncols=5,
                glyph_width=46, glyph_height=14, label_height=28, label_width=278,
                label_standoff=3, spacing=0, padding=0, margin=0,
                border_line_color=None, background_fill_alpha=0,
                inactive_fill_alpha=0,
                label_text_font=lab_font, label_text_font_size="21px",
                label_text_color="#262626", click_policy="none")
h.add_layout(legend, "center")

layout = column(h, p, spacing=0)
open("out.html", "w").write(file_html(layout, INLINE))
